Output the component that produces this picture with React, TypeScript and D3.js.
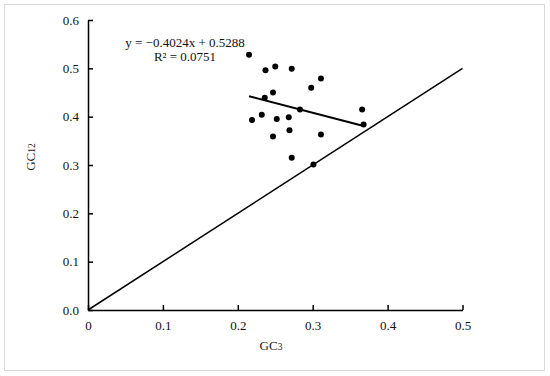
import React, { useEffect, useRef } from 'react';
import * as d3 from 'd3';

// GC3 vs GC12 values
const gc3 = [0.215, 0.237, 0.250, 0.272, 0.311, 0.298, 0.247, 0.236, 0.283, 0.366,
  0.368, 0.219, 0.232, 0.252, 0.268, 0.269, 0.247, 0.311, 0.272, 0.301];
const gc12 = [0.528, 0.496, 0.504, 0.499, 0.479, 0.460, 0.450, 0.439, 0.415, 0.415,
  0.384, 0.393, 0.404, 0.395, 0.399, 0.372, 0.359, 0.363, 0.315, 0.301];
const xTicks = [0, 0.1, 0.2, 0.3, 0.4, 0.5];
const yTicks = [0, 0.1, 0.2, 0.3, 0.4, 0.5, 0.6];
const slope = -0.4024;
const intercept = 0.5288;
const rSquared = '0.0751';

const App = () => {
  const ref = useRef<SVGSVGElement | null>(null);

  useEffect(() => {
    const svg = d3.select(ref.current);
    svg.selectAll('*').remove();
    const font = '"Liberation Serif", "Times New Roman", serif';

    const x = d3.scaleLinear().domain([0, 0.5]).range([88, 462.5]);
    const y = d3.scaleLinear().domain([0, 0.6]).range([310, 20]);

    // outer frame
    svg.append('rect')
      .attr('x', 4.5).attr('y', 4.5).attr('width', 540).attr('height', 366)
      .attr('fill', 'white').attr('stroke', '#d9d9d9').attr('stroke-width', 1);

    // 1:1 line
    svg.append('line')
      .attr('x1', x(0)).attr('y1', y(0)).attr('x2', x(0.5)).attr('y2', y(0.5))
      .attr('stroke', 'black').attr('stroke-width', 1.5);

    // X axis
    const gx = svg.append('g')
      .attr('transform', `translate(0,${y(0)})`)
      .call(d3.axisBottom(x).tickValues(xTicks).tickSizeInner(-5).tickSizeOuter(0)
        .tickFormat((d) => (d === 0 ? '0' : d3.format('.1f')(d as number))));
    gx.select('.domain').attr('stroke', 'black').attr('stroke-width', 1.5);
    gx.selectAll('.tick line').attr('stroke-width', 1.5);
    gx.selectAll('.tick text').attr('y', 11).attr('font-family', font).attr('font-size', 13).attr('fill', '#111');

    // Y axis
    const gy = svg.append('g')
      .attr('transform', `translate(${x(0)},0)`)
      .call(d3.axisLeft(y).tickValues(yTicks).tickSizeInner(-5).tickSizeOuter(0)
        .tickFormat(d3.format('.1f')));
    gy.select('.domain').attr('stroke', 'black').attr('stroke-width', 1.5);
    gy.selectAll('.tick line').attr('stroke-width', 1.5);
    gy.selectAll('.tick text').attr('x', -9).attr('font-family', font).attr('font-size', 13).attr('fill', '#111');

    // axis titles
    const xt = svg.append('text')
      .attr('x', 271).attr('y', 350)
      .attr('text-anchor', 'middle').attr('font-family', font).attr('font-size', 13).attr('fill', '#222')
      .text('GC');
    xt.append('tspan').attr('font-size', 9.5).text('3');

    const yt = svg.append('text')
      .attr('transform', 'translate(34.5,157) rotate(-90)')
      .attr('text-anchor', 'middle').attr('font-family', font).attr('font-size', 13).attr('fill', '#222')
      .text('GC');
    yt.append('tspan').attr('font-size', 9.5).text('12');

    // regression line
    const xMin = d3.min(gc3) as number;
    const xMax = d3.max(gc3) as number;
    svg.append('line')
      .attr('x1', x(xMin)).attr('y1', y(slope * xMin + intercept))
      .attr('x2', x(xMax)).attr('y2', y(slope * xMax + intercept))
      .attr('stroke', 'black').attr('stroke-width', 2);

    // points
    svg.selectAll('.dot')
      .data(gc3.map((v, i) => [v, gc12[i]]))
      .enter().append('circle')
      .attr('class', 'dot')
      .attr('cx', (d) => x(d[0]))
      .attr('cy', (d) => y(d[1]))
      .attr('r', 3)
      .attr('fill', 'black');

    // equation
    svg.append('text')
      .attr('x', 185).attr('y', 47)
      .attr('text-anchor', 'middle').attr('font-family', font).attr('font-size', 13).attr('fill', '#111')
      .text(`y = \u2212${Math.abs(slope).toFixed(4)}x + ${intercept.toFixed(4)}`);
    svg.append('text')
      .attr('x', 185).attr('y', 61)
      .attr('text-anchor', 'middle').attr('font-family', font).attr('font-size', 13).attr('fill', '#111')
      .text(`R\u00B2 = ${rSquared}`);

    return () => {
      svg.selectAll('*').remove();
    };
  }, []);

  return (
    <div style={{ position: 'absolute', left: 0, top: 0 }}>
      <svg ref={ref} width={550} height={376} style={{ display: 'block' }} />
    </div>
  );
};

export default App;
